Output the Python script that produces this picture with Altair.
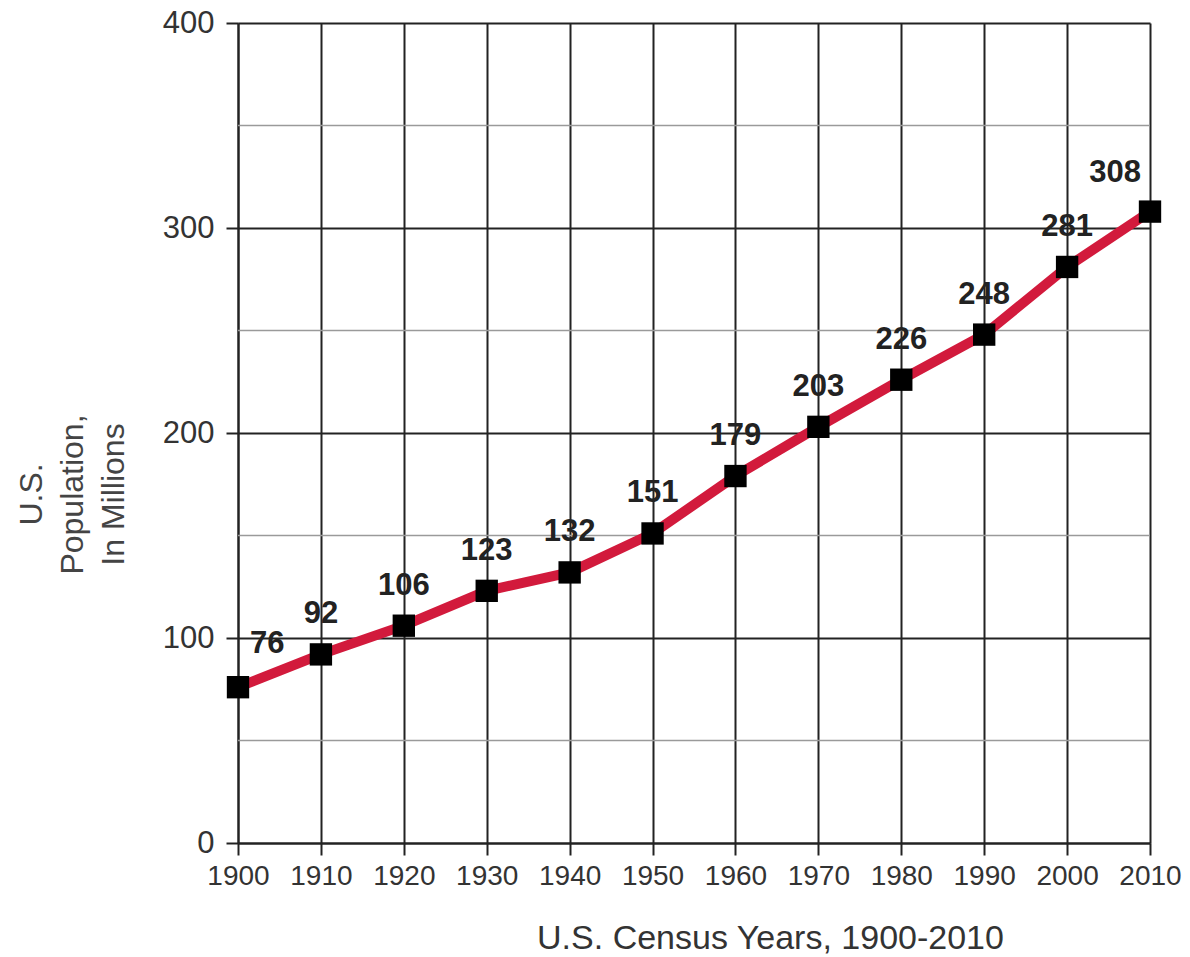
import altair as alt
import pandas as pd

years = [1900, 1910, 1920, 1930, 1940, 1950, 1960, 1970, 1980, 1990, 2000, 2010]
population = [76, 92, 106, 123, 132, 151, 179, 203, 226, 248, 281, 308]
decade_ticks = [1900, 1910, 1920, 1930, 1940, 1950, 1960, 1970, 1980, 1990, 2000, 2010]
major_y = [0, 100, 200, 300, 400]
minor_y = [50, 150, 250, 350]

df = pd.DataFrame({"year": years, "pop": population})
minor_df = pd.DataFrame({"v": minor_y})

FONT = "Liberation Sans"
RED = "#d21a3c"

x = alt.X("year:Q", scale=alt.Scale(domain=[1900, 2010], nice=False, zero=False),
          axis=alt.Axis(values=decade_ticks, format="d", title="U.S. Census Years, 1900-2010",
                        grid=True, gridColor="#222", gridWidth=2, gridOpacity=1,
                        domainColor="#222", domainWidth=2, tickColor="#222", tickWidth=2,
                        tickSize=12, labelFontSize=28, labelColor="#333", labelFont=FONT,
                        labelPadding=7, titleFont=FONT, titleFontSize=34, titleColor="#333",
                        titleFontWeight="normal", titleX=532, titleY=95, titleAlign="center",
                        titleBaseline="middle", labelFlush=False))
y = alt.Y("pop:Q", scale=alt.Scale(domain=[0, 400], nice=False),
          axis=alt.Axis(values=major_y, title=["U.S.", "Population,", "In Millions"],
                        grid=True, gridColor="#222", gridWidth=2, gridOpacity=1,
                        domainColor="#222", domainWidth=2, tickColor="#222", tickWidth=2,
                        tickSize=12, labelFontSize=31, labelColor="#333", labelFont=FONT,
                        labelPadding=12, titleFont=FONT, titleFontSize=32, titleColor="#444",
                        titleFontWeight="normal", titleLineHeight=41, titleAngle=270,
                        titleX=-207, titleY=471, titleAlign="center", titleBaseline="middle",
                        labelFlush=False))

base = alt.Chart(df)

minor = alt.Chart(minor_df).mark_rule(color="#9a9a9a", strokeWidth=1.5).encode(
    y=alt.Y("v:Q", scale=alt.Scale(domain=[0, 400], nice=False)))

line = base.mark_line(color=RED, strokeWidth=10).encode(x=x, y=y)
pts = base.mark_point(shape="square", filled=True, color="black", size=500, opacity=1).encode(x=x, y=y)

txt_mid = base.transform_filter("datum.year > 1900 && datum.year < 2010").mark_text(
    font=FONT, fontSize=31, fontWeight="bold", color="#222", dy=-40, baseline="middle"
).encode(x=x, y=y, text="pop:Q")
txt_first = base.transform_filter("datum.year == 1900").mark_text(
    font=FONT, fontSize=31, fontWeight="bold", color="#222", dy=-43, dx=12, align="left", baseline="middle"
).encode(x=x, y=y, text="pop:Q")
txt_last = base.transform_filter("datum.year == 2010").mark_text(
    font=FONT, fontSize=31, fontWeight="bold", color="#222", dy=-39, dx=-9, align="right", baseline="middle"
).encode(x=x, y=y, text="pop:Q")

chart = alt.layer(minor, line, pts, txt_mid, txt_first, txt_last).properties(
    width=912, height=820,
    autosize=alt.AutoSizeParams(type="none"),
    padding={"left": 238, "top": 23, "right": 40, "bottom": 114},
    background="white",
).configure_view(stroke=None)

chart.save("out.html", embed_options={"renderer": "svg", "actions": False})
